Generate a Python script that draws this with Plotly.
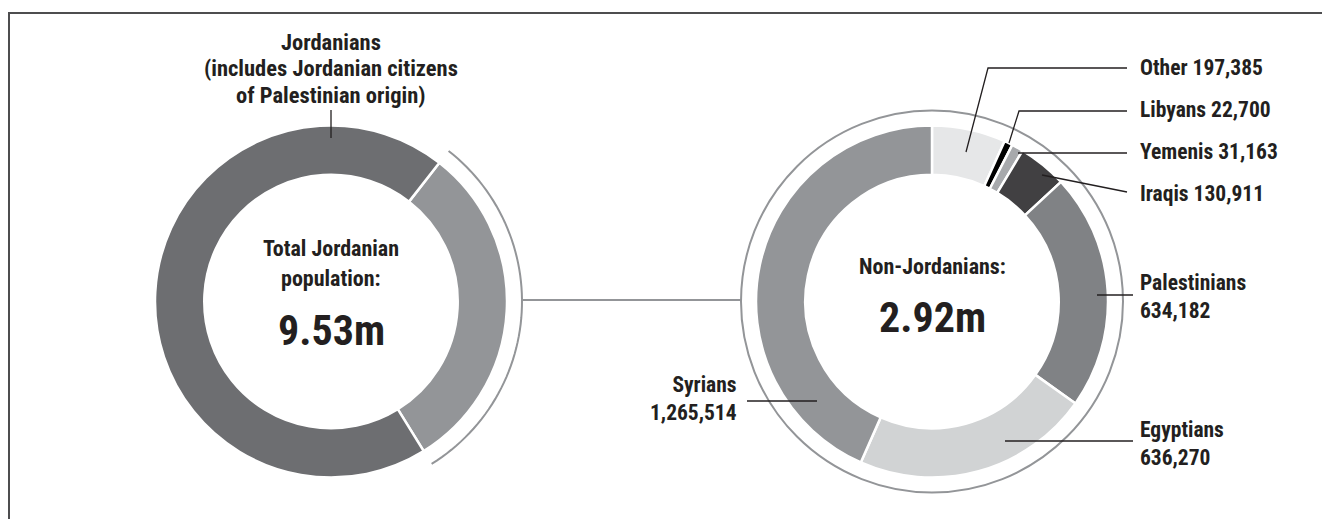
import math
import plotly.graph_objects as go

W, H = 1322, 519

# Jordan population, 2015 census
total_labels = ["Non-Jordanians", "Jordanians"]
total_values = [2918125, 6613587]
total_colors = ["#939598", "#6d6e71"]

nat_labels = ["Other", "Libyans", "Yemenis", "Iraqis", "Palestinians", "Egyptians", "Syrians"]
nat_values = [197385, 22700, 31163, 130911, 634182, 636270, 1265514]
nat_colors = ["#e6e7e8", "#000000", "#a7a9ac", "#414042", "#808285", "#d1d3d4", "#939598"]

jordanians_note = ["Jordanians", "(includes Jordanian citizens", "of Palestinian origin)"]
total_caption = ["Total Jordanian", "population:"]
total_figure = "9.53m"
nat_caption = "Non-Jordanians:"
nat_figure = "2.92m"

# layout geometry (pixels, y measured downward)
FONT = "Liberation Sans Narrow, Arial Narrow, Roboto Condensed, DejaVu Sans Condensed, sans-serif"
INK = "#231f20"
RULE = "#939598"
LCX, RCX, CY = 331, 932, 301.5
R_OUT = 176
HOLE = 0.72
RING = 191
LEFT_ROT = 38


def px(x):
    return x / W


def py(y):
    return 1 - y / H


def domain(cx):
    return dict(x=[px(cx - R_OUT), px(cx + R_OUT)], y=[py(CY + R_OUT), py(CY - R_OUT)])


fig = go.Figure()
fig.add_trace(go.Pie(
    labels=total_labels, values=total_values, hole=HOLE, sort=False,
    direction="clockwise", rotation=LEFT_ROT, textinfo="none",
    marker=dict(colors=total_colors, line=dict(color="white", width=2.5)),
    domain=domain(LCX), hoverinfo="label+value",
))
fig.add_trace(go.Pie(
    labels=nat_labels, values=nat_values, hole=HOLE, sort=False,
    direction="clockwise", rotation=0, textinfo="none",
    marker=dict(colors=nat_colors, line=dict(color="white", width=2.5)),
    domain=domain(RCX), hoverinfo="label+value",
))

shapes = []


def seg(points, color=INK, width=1.3):
    d = "M " + " L ".join(f"{px(x):.5f},{py(y):.5f}" for x, y in points)
    shapes.append(dict(type="path", path=d, xref="paper", yref="paper",
                       line=dict(color=color, width=width)))


# frame
seg([(9, H), (9, 13), (W, 13)], color="#4d4d4f", width=2)

# arc beside the non-Jordanian share of the total
share = total_values[0] / sum(total_values)
a0 = math.radians(LEFT_ROT)
a1 = a0 + 2 * math.pi * share
arc = []
for i in range(61):
    a = a0 + (a1 - a0) * i / 60
    arc.append((LCX + RING * math.sin(a), CY - RING * math.cos(a)))
seg(arc, color=RULE, width=2)

# ring round the breakdown, and the link between the two charts
shapes.append(dict(type="circle", xref="paper", yref="paper",
                   x0=px(RCX - RING), x1=px(RCX + RING),
                   y0=py(CY + RING), y1=py(CY - RING),
                   line=dict(color=RULE, width=2)))
seg([(LCX + RING, CY - 1.5), (RCX - RING, CY - 1.5)], color=RULE, width=2)

# leader lines
seg([(LCX, 110), (LCX, 138)])
seg([(966, 152), (988, 68), (1127, 68)])
seg([(1009, 143), (1019, 111), (1127, 111)])
seg([(1018, 153), (1127, 153)])
seg([(1042, 175), (1127, 192)])
seg([(1097, 295), (1133, 295)])
seg([(1005, 441), (1133, 441)])
seg([(817, 401), (747, 401)])

annotations = []


def label(text, x, y, size=21.5, anchor="left", align="left"):
    annotations.append(dict(
        text=text, x=px(x), y=py(y), xref="paper", yref="paper",
        xanchor=anchor, yanchor="middle", align=align, showarrow=False,
        font=dict(family=FONT, size=size, color=INK, weight="bold"),
    ))


def fmt(v):
    return f"{v:,}"


for line, y in zip(jordanians_note, [42, 68.5, 95]):
    label(line, LCX, y, size=22.5, anchor="center", align="center")
label(total_caption[0], LCX, 248, size=22, anchor="center", align="center")
label(total_caption[1], LCX, 278, size=22, anchor="center", align="center")
label(total_figure, LCX, 330, size=42, anchor="center", align="center")
label(nat_caption, RCX, 266, size=22, anchor="center", align="center")
label(nat_figure, RCX, 317, size=42, anchor="center", align="center")

label(f"{nat_labels[0]} {fmt(nat_values[0])}", 1138, 67)
label(f"{nat_labels[1]} {fmt(nat_values[1])}", 1138, 110)
label(f"{nat_labels[2]} {fmt(nat_values[2])}", 1138, 151)
label(f"{nat_labels[3]} {fmt(nat_values[3])}", 1138, 193)
label(f"{nat_labels[4]}<br>{fmt(nat_values[4])}", 1138, 296)
label(f"{nat_labels[5]}<br>{fmt(nat_values[5])}", 1138, 443)
label(f"{nat_labels[6]}<br>{fmt(nat_values[6])}", 739, 398, anchor="right", align="right")

fig.update_layout(
    width=W, height=H, autosize=False,
    margin=dict(l=0, r=0, t=0, b=0),
    paper_bgcolor="white", plot_bgcolor="white",
    showlegend=False, shapes=shapes, annotations=annotations,
)

fig.write_html("out.html")
